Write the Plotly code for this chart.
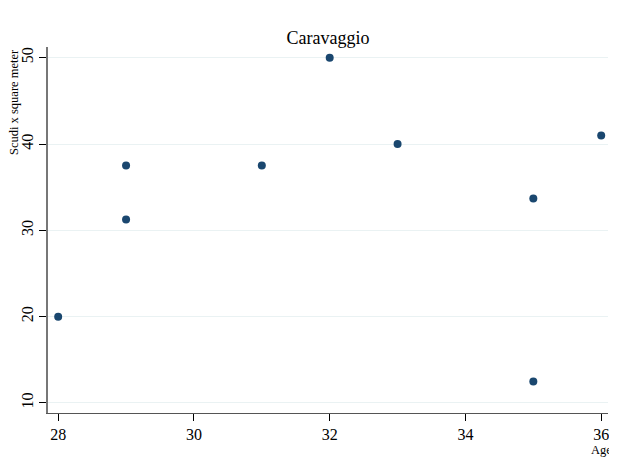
import plotly.graph_objects as go

age = [28, 29, 29, 31, 32, 33, 35, 35, 36]
scudi = [20, 37.5, 31.25, 37.5, 50, 40, 33.7, 12.5, 41]
x_ticks = [28, 30, 32, 34, 36]
y_ticks = [10, 20, 30, 40, 50]

font = "Liberation Serif, Times New Roman, serif"

fig = go.Figure(go.Scatter(
    x=age, y=scudi, mode="markers",
    marker=dict(color="#1a476f", size=8),
))

# page body has an 8px margin: shrink the figure to compensate
fig.update_layout(
    width=609, height=454,
    margin=dict(l=40, r=9, t=39, b=49, autoexpand=False),
    paper_bgcolor="white", plot_bgcolor="white",
    font=dict(family=font, color="black", size=17),
    showlegend=False,
    title=dict(text="Caravaggio", x=0.5, xref="paper", xanchor="center",
               y=1, yref="paper", yanchor="bottom", pad=dict(b=3),
               font=dict(family=font, size=18, color="black")),
    annotations=[
        dict(text="Scudi x square meter", xref="paper", yref="paper",
             x=0, y=1, xanchor="right", yanchor="top", xshift=-25,
             textangle=-90, showarrow=False,
             font=dict(family=font, size=12.5, color="black")),
        dict(text="Age", xref="x", yref="paper", x=36, y=0,
             xanchor="center", yanchor="top", yshift=-28,
             showarrow=False, font=dict(family=font, size=12.5, color="black")),
    ],
)

fig.update_xaxes(
    range=[27.85, 36.1], tickvals=x_ticks, ticks="outside", ticklen=7,
    tickcolor="black", showline=True, linecolor="#555", linewidth=1,
    showgrid=False, zeroline=False, tickfont=dict(size=16), automargin=False,
)
fig.update_yaxes(
    range=[8.84, 51.24], tickvals=y_ticks, ticks="outside", ticklen=7,
    tickcolor="black", showline=True, linecolor="#777", linewidth=2,
    showgrid=True, gridcolor="#eaf2f3", gridwidth=1, zeroline=False,
    tickangle=-90, tickfont=dict(size=16), automargin=False,
)

fig.write_html("out.html")
